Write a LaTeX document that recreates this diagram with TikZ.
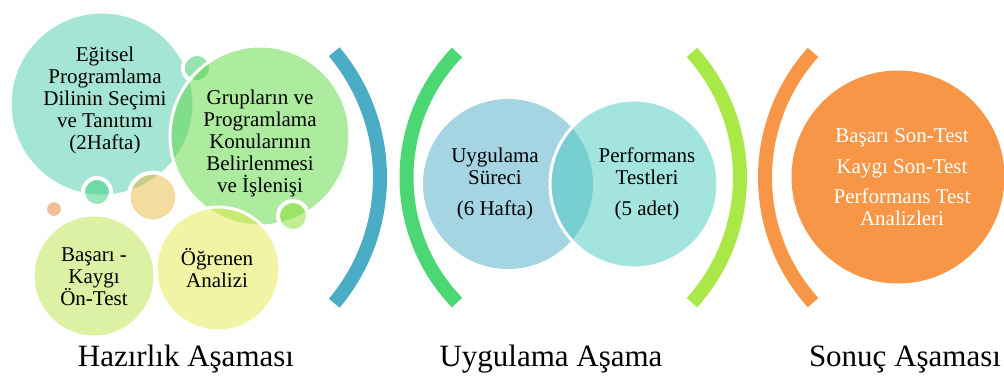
\documentclass[tikz,border=0pt]{standalone}
\usepackage{fontspec}
\setmainfont{Liberation Serif}
\definecolor{cTeal}{RGB}{77,205,169}
\definecolor{cGreen}{RGB}{93,217,65}
\definecolor{cDotA}{RGB}{45,201,95}
\definecolor{cDotB}{RGB}{55,209,125}
\definecolor{cTan}{RGB}{235,185,65}
\definecolor{cSalmon}{RGB}{235,125,55}
\definecolor{cDotC}{RGB}{135,225,45}
\definecolor{cLime}{RGB}{189,229,75}
\definecolor{cYellow}{RGB}{229,235,75}
\definecolor{cSky}{RGB}{165,213,226}
\definecolor{cAqua}{RGB}{75,203,193}
\definecolor{cOrange}{RGB}{247,150,70}
\definecolor{arcBlue}{RGB}{75,172,198}
\definecolor{arcGreen}{RGB}{76,215,117}
\definecolor{arcLime}{RGB}{170,232,72}
\definecolor{arcOrange}{RGB}{247,150,70}
\begin{document}
\begin{tikzpicture}[x=1pt,y=-1pt,
  bub/.style={circle, draw=white, line width=3pt, fill opacity=0.5, draw opacity=1,
              text opacity=1, inner sep=0pt, minimum size=#1},
  dot/.style={bub=#1, line width=4pt},
  txt/.style={align=center, font=\fontsize{21}{22}\selectfont, text=black, inner sep=0pt},
  phase/.style={anchor=base, font=\fontsize{31}{34}\selectfont, text=black, inner sep=0pt},
  bracket/.style={line width=14pt}
]
\useasboundingbox[fill=white] (0,0) rectangle (1004,376);

% preparation cluster
\node[bub=184pt, fill=cTeal] (prog) at (102,104) {};
\node[dot=28pt, fill=cDotA] (d1) at (197,68) {};
\node[bub=180pt, fill=cGreen] (grp) at (260,136) {};
\node[dot=28pt, fill=cDotB] (d2) at (97,192) {};
\node[dot=49pt, fill=cTan] (d3) at (153,197) {};
\node[dot=18pt, fill=cSalmon] (d4) at (54,209) {};
\node[dot=30pt, fill=cDotC] (d5) at (293,216) {};
\node[bub=122pt, fill=cLime] (pre) at (94,276) {};
\node[bub=124pt, fill=cYellow] (ogr) at (218,269) {};

\node[txt] (progT) at (105,100) {Eğitsel\\Programlama\\Dilinin Seçimi\\ve Tanıtımı\\(2Hafta)};
\node[txt] (grpT) at (260,143) {Grupların ve\\Programlama\\Konularının\\Belirlenmesi\\ve İşlenişi};
\node[txt] (preT) at (94,277) {Başarı -\\Kaygı\\Ön-Test};
\node[txt] (ogrT) at (217,268) {Öğrenen\\Analizi};

% implementation stage
\node[circle, fill=cSky, inner sep=0pt, minimum size=170pt] (uyg) at (508,184) {};
\node[bub=168pt, fill=cAqua] (perf) at (634,184) {};
\node[txt] (uygT) at (495,184) {Uygulama\\Süreci\\[9pt](6 Hafta)};
\node[txt] (perfT) at (647,184) {Performans\\Testleri\\[9pt](5 adet)};

% result stage
\node[circle, fill=cOrange, inner sep=0pt, minimum size=213pt] (son) at (898,177) {};
\node[txt, text=white] (sonT) at (902,177) {Başarı Son-Test\\[9pt]Kaygı Son-Test\\[8pt]Performans Test\\Analizleri};

% brackets between the stages
\coordinate (cb) at (184.4,177.5);
\coordinate (cg) at (586.5,177.5);
\coordinate (cl) at (553,177.5);
\coordinate (co) at (952,177.5);
\draw[bracket, arcBlue] (cb) ++(-40:195.6) arc[start angle=-40, end angle=40, radius=195.6];
\draw[bracket, arcGreen] (cg) ++(136:180) arc[start angle=136, end angle=224, radius=180];
\draw[bracket, arcLime] (cl) ++(-42:187) arc[start angle=-42, end angle=42, radius=187];
\draw[bracket, arcOrange] (co) ++(138:187) arc[start angle=138, end angle=222, radius=187];

% stage titles
\node[phase] (t1) at (186,366) {Hazırlık Aşaması};
\node[phase] (t2) at (551,366) {Uygulama Aşama};
\node[phase] (t3) at (905,366) {Sonuç Aşaması};
\end{tikzpicture}
\end{document}
